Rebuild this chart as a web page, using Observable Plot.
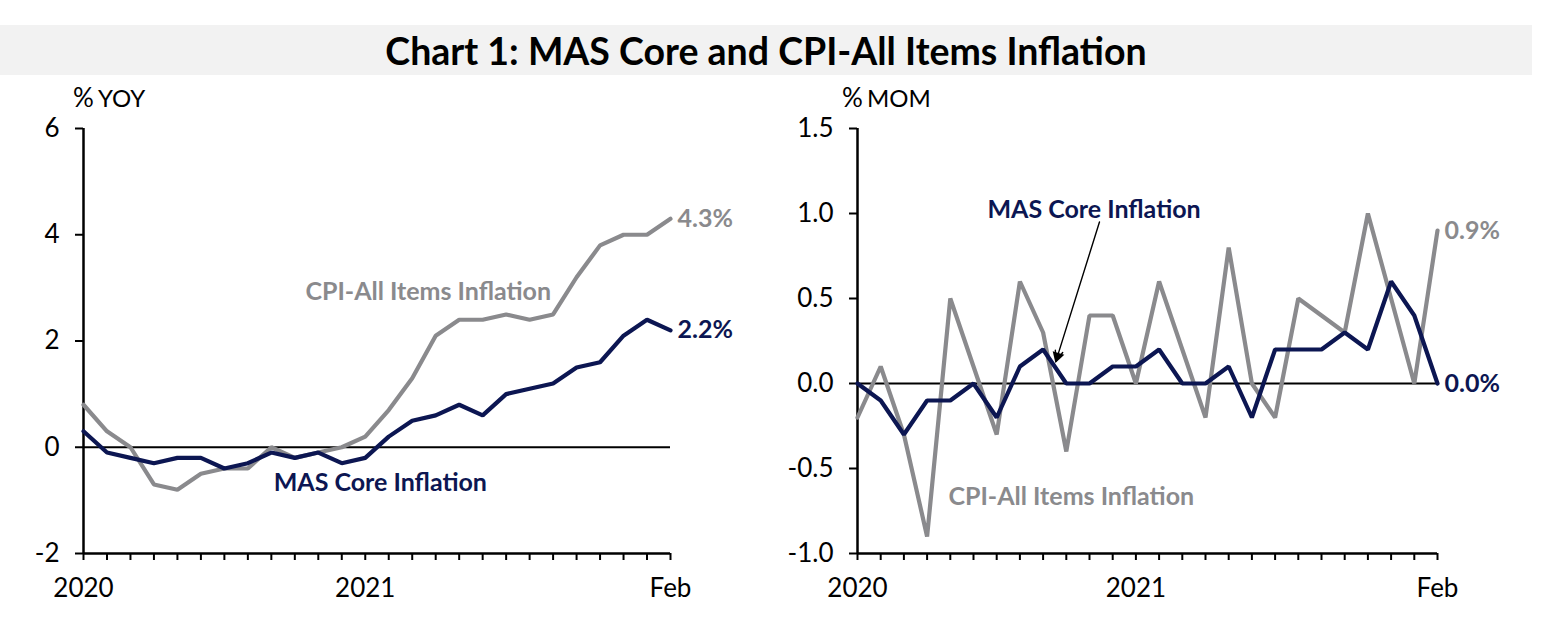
<!DOCTYPE html>
<html>
<head>
<meta charset="utf-8">
<script src="https://cdn.jsdelivr.net/npm/d3@7"></script>
<script src="https://cdn.jsdelivr.net/npm/@observablehq/plot@0.6"></script>
<style>
  html, body { margin: 0; padding: 0; background: #fff; }
  body { width: 1542px; height: 634px; position: relative; overflow: hidden; font-family: Lato, "Open Sans", sans-serif; }
  #title { position: absolute; left: 0; top: 25px; width: 1532px; height: 50px; background: #f2f2f2;
           display: flex; align-items: center; justify-content: center; font-weight: 700; font-size: 37.5px; color: #000; }
  .unit { position: absolute; top: 81px; color: #000; white-space: nowrap; line-height: 32px; }
  .unit .pct { font-size: 26px; }
  .unit .u { font-size: 24px; }
  .panel { position: absolute; top: 85px; }
</style>
</head>
<body>
<div id="title"><span id="titletext">Chart 1: MAS Core and CPI-All Items Inflation</span></div>
<div class="unit" style="left:73px"><span class="pct">%</span> <span class="u">YOY</span></div>
<div class="unit" style="left:842px"><span class="pct">%</span> <span class="u">MOM</span></div>
<div class="panel" id="left" style="left:0px"></div>
<div class="panel" id="right" style="left:771px"></div>
<script>
// Months: Jan 2020 .. Feb 2022
const months = ["2020-01","2020-02","2020-03","2020-04","2020-05","2020-06","2020-07","2020-08","2020-09","2020-10","2020-11","2020-12",
                "2021-01","2021-02","2021-03","2021-04","2021-05","2021-06","2021-07","2021-08","2021-09","2021-10","2021-11","2021-12",
                "2022-01","2022-02"];
const xTickLabels = {"2020-01": "2020", "2021-01": "2021", "2022-02": "Feb"};

// % YOY
const cpiYoy  = [0.8, 0.3, 0.0, -0.7, -0.8, -0.5, -0.4, -0.4, 0.0, -0.2, -0.1, 0.0,
                 0.2, 0.7, 1.3, 2.1, 2.4, 2.4, 2.5, 2.4, 2.5, 3.2, 3.8, 4.0,
                 4.0, 4.3];
const coreYoy = [0.3, -0.1, -0.2, -0.3, -0.2, -0.2, -0.4, -0.3, -0.1, -0.2, -0.1, -0.3,
                 -0.2, 0.2, 0.5, 0.6, 0.8, 0.6, 1.0, 1.1, 1.2, 1.5, 1.6, 2.1,
                 2.4, 2.2];
// % MOM
const cpiMom  = [-0.2, 0.1, -0.3, -0.9, 0.5, 0.1, -0.3, 0.6, 0.3, -0.4, 0.4, 0.4,
                 0.0, 0.6, 0.2, -0.2, 0.8, 0.0, -0.2, 0.5, 0.4, 0.3, 1.0, 0.5,
                 0.0, 0.9];
const coreMom = [0.0, -0.1, -0.3, -0.1, -0.1, 0.0, -0.2, 0.1, 0.2, 0.0, 0.0, 0.1,
                 0.1, 0.2, 0.0, 0.0, 0.1, -0.2, 0.2, 0.2, 0.2, 0.3, 0.2, 0.6,
                 0.4, 0.0];

const yoyTicks = [-2, 0, 2, 4, 6];
const momTicks = [-1.0, -0.5, 0.0, 0.5, 1.0, 1.5];

// annotation anchors (in data units: month index, value)
const yoyNotes = [
  {x: 9.45, y: 2.92, text: "CPI-All Items Inflation", series: "cpi"},
  {x: 8.1,  y: -0.68, text: "MAS Core Inflation", series: "core"}
];
const momNotes = [
  {x: 5.6,  y: 1.02, text: "MAS Core Inflation", series: "core"},
  {x: 3.92, y: -0.67, text: "CPI-All Items Inflation", series: "cpi"}
];
const momArrow = [{x1: 10.43, y1: 0.95, x2: 8.55, y2: 0.13}];

const GRAY = "#8a8a8d";
const NAVY = "#0c1652";
const colorOf = s => s === "cpi" ? GRAY : NAVY;

const idx = months.map((m, i) => i);
const toRows = vals => vals.map((v, i) => ({i, v}));
const last = months.length - 1;

function panel({cpi, core, domain, ticks, tickFmt, notes, arrow, marginLeft, marginRight}) {
  const endLabels = [
    {i: last, v: cpi[last], series: "cpi"},
    {i: last, v: core[last], series: "core"}
  ];
  return Plot.plot({
    width: 771, height: 540,
    marginLeft, marginRight, marginTop: 43, marginBottom: 72,
    style: {fontFamily: "Lato, 'Open Sans', sans-serif", fontSize: "26px", color: "#000", background: "transparent", overflow: "visible"},
    x: {domain: [0, last]},
    y: {domain},
    marks: [
      Plot.axisY({ticks, tickSize: 8, tickPadding: 16, tickFormat: tickFmt, strokeWidth: 2, label: null, fontSize: 26}),
      Plot.axisX({ticks: idx, tickSize: 7, tickPadding: 18, strokeWidth: 2, label: null, fontSize: 26,
                  tickFormat: i => xTickLabels[months[i]] ?? ""}),
      Plot.ruleX([0], {y1: domain[0], y2: domain[1], stroke: "#000", strokeWidth: 2.5}),
      Plot.ruleY([domain[0]], {x1: 0, x2: last, stroke: "#000", strokeWidth: 2.5}),
      Plot.ruleY([0], {x1: 0, x2: last, stroke: "#000", strokeWidth: 2}),
      Plot.line(toRows(cpi), {x: "i", y: "v", stroke: GRAY, strokeWidth: 4.2, strokeLinejoin: "miter"}),
      Plot.line(toRows(core), {x: "i", y: "v", stroke: NAVY, strokeWidth: 4.2, strokeLinejoin: "miter"}),
      arrow ? Plot.arrow(arrow, {x1: "x1", y1: "y1", x2: "x2", y2: "y2", stroke: "#000", strokeWidth: 1.4, headLength: 12, headAngle: 40}) : null,
      arrow ? Plot.dot(arrow, {x: d => d.x2 + 0.07, y: d => d.y2 + 0.03, symbol: "triangle", r: 4.5, fill: "#000", rotate: 197}) : null,
      Plot.text(notes, {x: "x", y: "y", text: "text", fill: d => colorOf(d.series), textAnchor: "start", lineAnchor: "middle", fontSize: 25, fontWeight: "bold"}),
      Plot.text(endLabels, {x: "i", y: "v", text: d => d.v.toFixed(1) + "%", fill: d => colorOf(d.series), textAnchor: "start", lineAnchor: "middle", dx: 7, fontSize: 25, fontWeight: "bold"})
    ]
  });
}

document.getElementById("left").append(panel({
  cpi: cpiYoy, core: coreYoy, domain: [-2, 6], ticks: yoyTicks,
  tickFmt: d => (d < 0 ? "-" : "") + Math.abs(d),
  notes: yoyNotes, arrow: null, marginLeft: 83, marginRight: 101
}));
document.getElementById("right").append(panel({
  cpi: cpiMom, core: coreMom, domain: [-1, 1.5], ticks: momTicks,
  tickFmt: d => (d < 0 ? "-" : "") + Math.abs(d).toFixed(1),
  notes: momNotes, arrow: momArrow, marginLeft: 86, marginRight: 105
}));
</script>
</body>
</html>
